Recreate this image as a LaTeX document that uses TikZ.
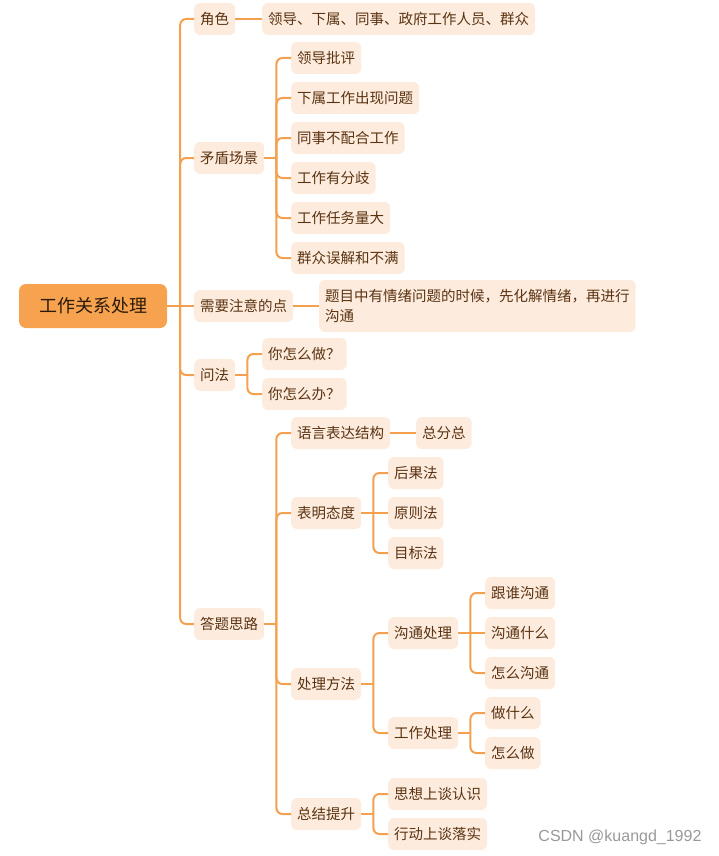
\documentclass[tikz,border=0pt]{standalone}
\usepackage{fontspec}
\setmainfont{Noto Sans CJK SC}
\newfontfamily\markfont{Liberation Sans}
\usetikzlibrary{calc,positioning}

\definecolor{rootfill}{HTML}{F6A24F}
\definecolor{roottext}{HTML}{2B1A0A}
\definecolor{topicfill}{HTML}{FDEBDD}
\definecolor{topictext}{HTML}{5A3412}
\definecolor{linkline}{HTML}{F5A04F}

\begin{document}
\begin{tikzpicture}[x=1pt,y=-1pt,
  root/.style={rectangle,fill=rootfill,rounded corners=7pt,minimum width=148pt,
               minimum height=44pt,font=\fontsize{18}{22}\selectfont,text=roottext},
  topic/.style={rectangle,fill=topicfill,rounded corners=6pt,anchor=west,inner xsep=6pt,
                minimum height=32pt,font=\fontsize{14.5}{20}\selectfont,text=topictext},
  link/.style={draw=linkline,line width=2pt,rounded corners=6pt}]

\useasboundingbox (0,0) rectangle (719,856);

\node[root] (root) at (93,306) {工作关系处理};

% first level
\node[topic] (role) at (194,19) {角色};
\node[topic] (scene) at (194,158) {矛盾场景};
\node[topic] (note) at (194,306) {需要注意的点};
\node[topic] (ask) at (194,375) {问法};
\node[topic] (idea) at (194,624) {答题思路};

% roles
\node[topic] (rolelist) at (262,19) {领导、下属、同事、政府工作人员、群众};

% conflict scenes
\node[topic] (sc1) at (291,58) {领导批评};
\node[topic] (sc2) at (291,98) {下属工作出现问题};
\node[topic] (sc3) at (291,138) {同事不配合工作};
\node[topic] (sc4) at (291,178) {工作有分歧};
\node[topic] (sc5) at (291,218) {工作任务量大};
\node[topic] (sc6) at (291,258) {群众误解和不满};

% points to note
\node[topic,align=left,minimum height=52pt] (notetext) at (319,306)
  {题目中有情绪问题的时候，先化解情绪，再进行\\沟通};

% ways of asking
\node[topic] (ask1) at (262,354) {你怎么做？};
\node[topic] (ask2) at (262,394) {你怎么办？};

% answer ideas
\node[topic] (lang) at (291,433) {语言表达结构};
\node[topic] (zfz) at (416,433) {总分总};
\node[topic] (attitude) at (291,513) {表明态度};
\node[topic] (att1) at (388,473) {后果法};
\node[topic] (att2) at (388,513) {原则法};
\node[topic] (att3) at (388,553) {目标法};
\node[topic] (method) at (291,684) {处理方法};
\node[topic] (comm) at (388,633) {沟通处理};
\node[topic] (comm1) at (485,593) {跟谁沟通};
\node[topic] (comm2) at (485,633) {沟通什么};
\node[topic] (comm3) at (485,673) {怎么沟通};
\node[topic] (work) at (388,733) {工作处理};
\node[topic] (work1) at (485,713) {做什么};
\node[topic] (work2) at (485,753) {怎么做};
\node[topic] (sum) at (291,814) {总结提升};
\node[topic] (sum1) at (388,794) {思想上谈认识};
\node[topic] (sum2) at (388,834) {行动上谈落实};

% trunk
\coordinate (rootbus) at ($(root.east)+(13,0)$);
\draw[link] (root.east) -- (rootbus);
\draw[link] (rootbus) |- (role.west);
\draw[link] (rootbus) |- (scene.west);
\draw[link] (rootbus) -- (note.west);
\draw[link] (rootbus) |- (ask.west);
\draw[link] (rootbus) |- (idea.west);

\draw[link] (role.east) -- (rolelist.west);
\draw[link] (note.east) -- (notetext.west);

\coordinate (scenebus) at ($(scene.east)+(12,0)$);
\draw[link] (scene.east) -- (scenebus);
\draw[link] (scenebus) |- (sc1.west);
\draw[link] (scenebus) |- (sc2.west);
\draw[link] (scenebus) |- (sc3.west);
\draw[link] (scenebus) |- (sc4.west);
\draw[link] (scenebus) |- (sc5.west);
\draw[link] (scenebus) |- (sc6.west);

\coordinate (askbus) at ($(ask.east)+(12,0)$);
\draw[link] (ask.east) -- (askbus);
\draw[link] (askbus) |- (ask1.west);
\draw[link] (askbus) |- (ask2.west);

\coordinate (ideabus) at ($(idea.east)+(12,0)$);
\draw[link] (idea.east) -- (ideabus);
\draw[link] (ideabus) |- (lang.west);
\draw[link] (ideabus) |- (attitude.west);
\draw[link] (ideabus) |- (method.west);
\draw[link] (ideabus) |- (sum.west);

\draw[link] (lang.east) -- (zfz.west);

\coordinate (attbus) at ($(attitude.east)+(12,0)$);
\draw[link] (attitude.east) -- (attbus);
\draw[link] (attbus) |- (att1.west);
\draw[link] (attbus) -- (att2.west);
\draw[link] (attbus) |- (att3.west);

\coordinate (methodbus) at ($(method.east)+(12,0)$);
\draw[link] (method.east) -- (methodbus);
\draw[link] (methodbus) |- (comm.west);
\draw[link] (methodbus) |- (work.west);

\coordinate (commbus) at ($(comm.east)+(12,0)$);
\draw[link] (comm.east) -- (commbus);
\draw[link] (commbus) |- (comm1.west);
\draw[link] (commbus) -- (comm2.west);
\draw[link] (commbus) |- (comm3.west);

\coordinate (workbus) at ($(work.east)+(12,0)$);
\draw[link] (work.east) -- (workbus);
\draw[link] (workbus) |- (work1.west);
\draw[link] (workbus) |- (work2.west);

\coordinate (sumbus) at ($(sum.east)+(12,0)$);
\draw[link] (sum.east) -- (sumbus);
\draw[link] (sumbus) |- (sum1.west);
\draw[link] (sumbus) |- (sum2.west);

\node[font=\markfont\fontsize{16}{18}\selectfont,text=black!40,anchor=east] (mark)
  at (705,837) {CSDN @kuangd\_1992};
\end{tikzpicture}
\end{document}
